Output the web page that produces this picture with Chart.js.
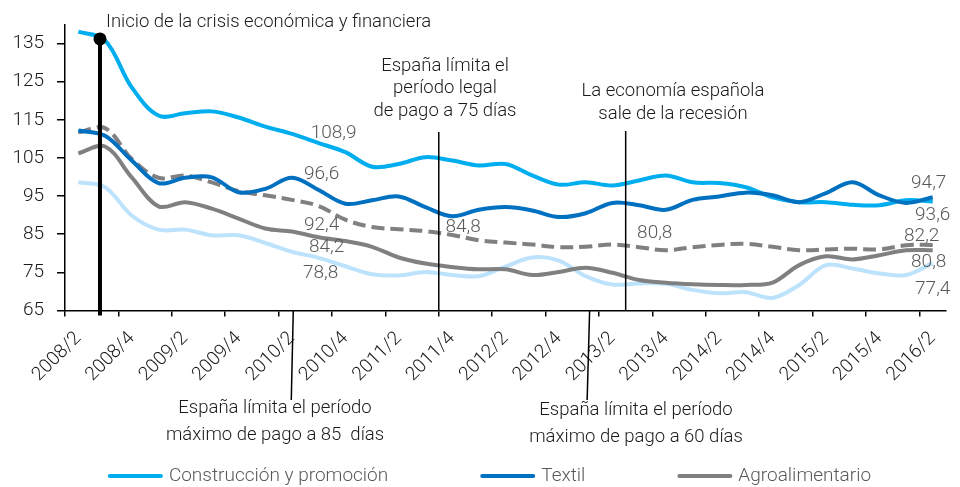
<!DOCTYPE html>
<html lang="es">
<head>
<meta charset="utf-8">
<title>Periodo medio de pago por sectores</title>
<script src="https://cdn.jsdelivr.net/npm/chart.js@4.4.1/dist/chart.umd.min.js"></script>
<style>
  html, body { margin: 0; padding: 0; background: #fff; }
  #wrap { width: 960px; height: 487px; position: relative; }
</style>
</head>
<body>
<div id="wrap"><canvas id="chartPagos"></canvas></div>
<script>
/* datos: índice trimestral por sector, 2008/2 – 2016/2 */
const trimestres = ['2008/2','2008/3','2008/4','2009/1','2009/2','2009/3','2009/4','2010/1','2010/2','2010/3','2010/4',
  '2011/1','2011/2','2011/3','2011/4','2012/1','2012/2','2012/3','2012/4','2013/1','2013/2','2013/3','2013/4',
  '2014/1','2014/2','2014/3','2014/4','2015/1','2015/2','2015/3','2015/4','2016/1','2016/2'];

const construccion = [138.1, 135.8, 123.5, 116.1, 116.7, 117.2, 115.6, 113.2, 111.3, 108.9, 106.5, 102.7, 103.4, 105.2, 104.3, 103.0, 103.4,
  100.4, 98.0, 98.6, 97.8, 99.1, 100.4, 98.6, 98.4, 97.3, 94.7, 93.4, 93.4, 92.7, 92.6, 93.9, 93.6];
const textil = [112.2, 110.8, 104.3, 98.4, 99.8, 99.9, 96.0, 96.9, 99.8, 96.6, 93.0, 93.9, 94.9, 92.1, 89.7, 91.4, 92.1,
  91.2, 89.5, 90.5, 93.2, 92.6, 91.4, 94.0, 94.9, 95.9, 95.2, 93.4, 95.8, 98.6, 95.2, 93.2, 94.7];
const agroalimentario = [106.2, 108.0, 99.9, 92.3, 93.4, 91.7, 89.1, 86.5, 85.7, 84.2, 83.2, 81.7, 78.9, 77.3, 76.4, 75.8, 75.8,
  74.3, 75.1, 76.2, 74.9, 73.0, 72.3, 71.9, 71.7, 71.7, 72.3, 76.9, 79.2, 78.4, 79.5, 80.8, 80.8];
const totalEmpresas = [111.7, 112.8, 104.7, 99.8, 100.4, 98.6, 96.3, 95.2, 94.0, 92.4, 88.8, 86.9, 86.3, 85.8, 84.8, 83.4, 82.8,
  82.3, 81.6, 81.7, 82.3, 81.6, 80.8, 81.6, 82.2, 82.5, 81.7, 80.8, 81.0, 81.2, 81.0, 82.1, 82.2];
const otrosSectores = [98.6, 97.3, 89.9, 86.2, 86.2, 84.7, 84.7, 82.7, 80.4, 78.8, 76.6, 74.5, 74.2, 75.1, 74.3, 74.0, 76.5,
  78.9, 78.1, 74.0, 71.8, 72.1, 72.0, 70.4, 69.5, 69.8, 68.3, 71.7, 76.9, 76.0, 74.7, 74.3, 77.4];

const ticksY = [65, 75, 85, 95, 105, 115, 125, 135];

// trimestres con valor rotulado
const rotConstruccion = [9, 32];
const rotTextil = [9, 32];
const rotAgro = [9, 32];
const rotTotal = [9, 14, 22, 32];
const rotOtros = [9, 32];

const FONT = "Roboto, 'Open Sans', sans-serif";
const FW = '300';
const fmt = v => v.toFixed(1).replace('.', ',');

/* ------------------------------
 * rótulos de valores
 * ------------------------------ */
const valueLabels = {
  id: 'valueLabels',
  afterDatasetsDraw(chart) {
    const ctx = chart.ctx;
    ctx.save();
    ctx.font = `${FW} 19px ${FONT}`;
    ctx.fillStyle = '#595959';
    ctx.textAlign = 'center';
    ctx.textBaseline = 'middle';
    chart.data.datasets.forEach((ds, di) => {
      const meta = chart.getDatasetMeta(di);
      (ds.rotulos || []).forEach((idx, k) => {
        const pt = meta.data[idx];
        const [dx, dy] = ds.rotOffsets[k];
        ctx.fillText(fmt(ds.data[idx]), pt.x + dx, pt.y + dy);
      });
    });
    ctx.restore();
  }
};

/* ------------------------------
 * hitos (líneas verticales + textos)
 * ------------------------------ */
const hitos = {
  id: 'hitos',
  afterDraw(chart) {
    const { ctx, scales: { x, y } } = chart;
    const px = f => {
      const i = Math.floor(f);
      const a = x.getPixelForValue(i), b = x.getPixelForValue(i + 1);
      return a + (b - a) * (f - i);
    };
    const bottom = y.bottom;
    ctx.save();
    ctx.strokeStyle = '#000';
    ctx.fillStyle = '#1a1a1a';
    ctx.font = `${FW} 18.5px ${FONT}`;
    ctx.textBaseline = 'middle';

    // inicio de la crisis
    const xc = px(0.81);
    ctx.lineWidth = 4;
    ctx.beginPath(); ctx.moveTo(xc, y.getPixelForValue(136.2)); ctx.lineTo(xc, bottom + 5); ctx.stroke();
    ctx.beginPath(); ctx.arc(xc, y.getPixelForValue(136.2), 6.5, 0, Math.PI * 2); ctx.fillStyle = '#000'; ctx.fill();
    ctx.fillStyle = '#1a1a1a';
    ctx.textAlign = 'left';
    ctx.fillText('Inicio de la crisis económica y financiera', 106, 22);

    ctx.lineWidth = 1.5;
    const linea = (x1, y1, x2, y2) => { ctx.beginPath(); ctx.moveTo(x1, y1); ctx.lineTo(x2, y2); ctx.stroke(); };
    const texto = (lines, cx, cy, lh) => {
      ctx.textAlign = 'center';
      lines.forEach((t, k) => ctx.fillText(t, cx, cy + k * lh));
    };

    // 85 días
    const x85 = px(8.05);
    linea(x85, bottom, x85 - 2, 400);
    texto(['España límita el período', 'máximo de pago a 85  días'], 275, 408, 27);

    // 75 días
    const x75 = px(13.5);
    linea(x75, 132, x75, bottom);
    texto(['España límita el', 'período legal', 'de pago a 75 días'], 445, 66, 22.5);

    // salida de la recesión
    const xr = px(20.5);
    linea(xr, 131, xr, bottom);
    texto(['La economía española', 'sale de la recesión'], 673, 91, 23);

    // 60 días
    const x60 = px(19.15);
    linea(x60, bottom, x60 - 2.5, 400);
    texto(['España límita el período', 'máximo de pago a 60 días'], 636, 410, 27);

    ctx.restore();
  }
};

/* ------------------------------
 * leyenda (3 series)
 * ------------------------------ */
const leyenda = {
  id: 'leyenda',
  afterDraw(chart) {
    const ctx = chart.ctx;
    ctx.save();
    ctx.font = `${FW} 19px ${FONT}`;
    const items = chart.data.datasets.filter(d => d.enLeyenda);
    const boxW = 55, gapTxt = 6, gapItem = 92;
    const widths = items.map(d => boxW + gapTxt + ctx.measureText(d.label).width);
    const total = widths.reduce((a, b) => a + b, 0) + gapItem * (items.length - 1);
    let xx = 489.5 - total / 2;
    const yy = 476;
    items.forEach((d, k) => {
      ctx.strokeStyle = d.borderColor;
      ctx.lineWidth = 4;
      ctx.lineCap = 'round';
      ctx.beginPath(); ctx.moveTo(xx + 2, yy); ctx.lineTo(xx + boxW - 2, yy); ctx.stroke();
      ctx.fillStyle = '#595959';
      ctx.textAlign = 'left';
      ctx.textBaseline = 'middle';
      ctx.fillText(d.label, xx + boxW + gapTxt, yy);
      xx += widths[k] + gapItem;
    });
    ctx.restore();
  }
};

const serie = (label, data, color, extra) => Object.assign({
  label, data,
  borderColor: color,
  backgroundColor: color,
  borderWidth: 4,
  pointRadius: 0,
  tension: 0.35,
  fill: false
}, extra);

new Chart(document.getElementById('chartPagos'), {
  type: 'line',
  data: {
    labels: trimestres,
    datasets: [
      serie('Construcción y promoción', construccion, '#00AEEF', { order: 1, enLeyenda: true,
        rotulos: rotConstruccion, rotOffsets: [[15, -10], [0, 14]] }),
      serie('Textil', textil, '#0070C0', { order: 0, enLeyenda: true,
        rotulos: rotTextil, rotOffsets: [[3, -16], [-4, -14]] }),
      serie('Agroalimentario', agroalimentario, '#808080', { order: 2, enLeyenda: true,
        rotulos: rotAgro, rotOffsets: [[8, 10], [-4, 12]] }),
      serie('Total empresas', totalEmpresas, '#808080', { order: 3, borderDash: [13, 6],
        rotulos: rotTotal, rotOffsets: [[3, 19], [11, -8], [-11, -17], [-11, -9]] }),
      serie('Otros sectores', otrosSectores, '#BDE2FC', { order: 4,
        rotulos: rotOtros, rotOffsets: [[2, 15], [0, 26]] })
    ]
  },
  options: {
    responsive: true,
    maintainAspectRatio: false,
    animation: false,
    layout: { padding: { top: 23, right: 11, left: 0, bottom: 0 } },
    scales: {
      x: {
        offset: true,
        border: { color: '#000', width: 1.5 },
        grid: {
          offset: true,
          drawOnChartArea: false,
          tickLength: 6,
          lineWidth: 1.5,
          color: c => (c.index % 2 === 0 ? '#000' : 'rgba(0,0,0,0)')
        },
        ticks: {
          autoSkip: false,
          minRotation: 45,
          maxRotation: 45,
          color: '#1a1a1a',
          font: { family: FONT, size: 19, weight: FW },
          padding: 11,
          callback: (v, i) => (i % 2 === 0 ? trimestres[i] : '')
        },
        afterFit: s => { s.height = 176.5; }
      },
      y: {
        min: 65,
        max: 140,
        border: { color: '#000', width: 1.5 },
        grid: { drawOnChartArea: false, tickLength: 8, lineWidth: 1.5, color: '#000' },
        ticks: { color: '#1a1a1a', font: { family: FONT, size: 19, weight: FW }, padding: 13 },
        afterBuildTicks: s => { s.ticks = ticksY.map(v => ({ value: v })); },
        afterFit: s => { s.width = 65; }
      }
    },
    plugins: {
      legend: { display: false },
      tooltip: { enabled: false }
    }
  },
  plugins: [valueLabels, hitos, leyenda]
});
</script>
</body>
</html>
